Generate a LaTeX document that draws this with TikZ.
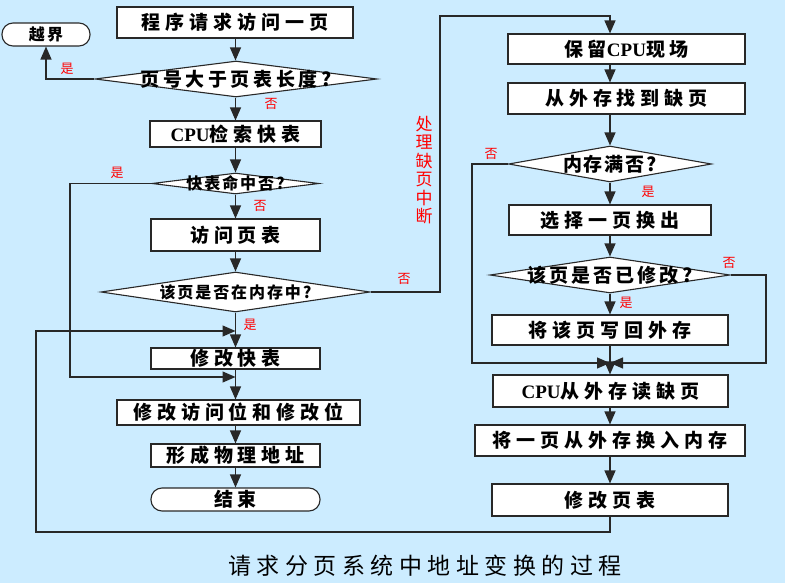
\documentclass[tikz,border=0pt]{standalone}
\usepackage{fontspec}
\setmainfont{Noto Sans CJK SC}
\newfontfamily\cjk{Noto Sans CJK SC}
\newfontfamily\lat{Liberation Serif}
\usetikzlibrary{arrows.meta,shapes.geometric}
\definecolor{bg}{RGB}{204,236,255}
\definecolor{lnc}{RGB}{40,40,40}
\tikzset{
  box/.style={draw=lnc, fill=white, line width=1.1pt, inner sep=0pt, rectangle},
  term/.style={box, rounded corners=11pt},
  dia/.style={draw=lnc, fill=white, line width=1.1pt, inner sep=0pt, diamond},
  arr/.style={draw=lnc, line width=1.2pt, -{Triangle[length=13pt,width=11pt]}},
  yn/.style={text=red, font=\fontsize{13}{13}\selectfont\cjk},
  txt/.style={font=\fontsize{19}{19}\selectfont\cjk\bfseries\addfontfeature{LetterSpace=#1}},
  txt/.default=26,
  txts/.style={font=\fontsize{16}{16}\selectfont\cjk\bfseries\addfontfeature{LetterSpace=#1}},
  txts/.default=12,
}
\begin{document}
\begin{tikzpicture}[x=1pt,y=-1pt]
\fill[bg] (0,0) rectangle (785,583);
\useasboundingbox (0,0) rectangle (785,583);
\coordinate (lx) at (235.5,0);
\coordinate (rx) at (610,0);
% left column
\node[box, minimum width=236pt, minimum height=31pt, txt] (b1) at (235,22.5) {程序请求访问一页};
\node[term, minimum width=88pt, minimum height=23pt, txts=15] (yj) at (46,34.5) {越界};
\node[dia, minimum width=282pt, minimum height=36pt, label={[txt=19]center:页号大于页表长度?}] (d1) at (236,79) {};
\node[box, minimum width=171pt, minimum height=26pt, txt] (b2) at (235.5,134) {{\lat CPU}检索快表};
\node[dia, minimum width=167pt, minimum height=21pt, label={[txts]center:快表命中否?}] (d2) at (235.5,183.5) {};
\node[box, minimum width=169pt, minimum height=32pt, txt] (b3) at (235.5,235) {访问页表};
\node[dia, minimum width=269pt, minimum height=40pt, label={[txts]center:该页是否在内存中?}] (d3) at (235.5,292) {};
\node[box, minimum width=169pt, minimum height=21pt, txt] (b4) at (235.5,358.5) {修改快表};
\node[box, minimum width=243pt, minimum height=25pt, txt] (b5) at (238.5,412.5) {修改访问位和修改位};
\node[box, minimum width=169pt, minimum height=23pt, txt] (b6) at (235.5,455.5) {形成物理地址};
\node[term, minimum width=169pt, minimum height=23pt, txt] (js) at (235.5,499.5) {结束};
% right column
\node[box, minimum width=237pt, minimum height=30pt, txt] (r1) at (626.5,49) {保留{\lat CPU}现场};
\node[box, minimum width=237pt, minimum height=31pt, txt] (r2) at (626.5,98.5) {从外存找到缺页};
\node[dia, minimum width=203pt, minimum height=36pt, label={[txt=10]center:内存满否?}] (rd1) at (610,164) {};
\node[box, minimum width=202pt, minimum height=30pt, txt] (r3) at (610,220) {选择一页换出};
\node[dia, minimum width=240pt, minimum height=36pt, label={[txt=16]center:该页是否已修改?}] (rd2) at (610,275) {};
\node[box, minimum width=236pt, minimum height=30pt, txt] (r4) at (610,330) {将该页写回外存};
\node[box, minimum width=235pt, minimum height=32pt, txt] (r5) at (610.5,391) {{\lat CPU}从外存读缺页};
\node[box, minimum width=270pt, minimum height=31pt, txt] (r6) at (610,440.5) {将一页从外存换入内存};
\node[box, minimum width=236pt, minimum height=32pt, txt] (r7) at (610,500) {修改页表};
% helper coordinates
\coordinate (c2) at (70,377);
\coordinate (j2) at (235.5,377);
\coordinate (c3) at (440,16);
\coordinate (c4) at (36,532);
\coordinate (j1) at (235.5,331);
\coordinate (c5) at (472,363);
\coordinate (c6) at (766,363);
\coordinate (j5) at (610,363);
% left arrows
\draw[arr] (b1.south -| lx) -- (d1.north -| lx);
\draw[arr] (d1.west) -| (yj.south);
\draw[arr] (d1.south -| lx) -- (b2.north -| lx);
\draw[arr] (b2.south -| lx) -- (d2.north -| lx);
\draw[arr] (d2.south -| lx) -- (b3.north -| lx);
\draw[arr] (b3.south -| lx) -- (d3.north -| lx);
\draw[arr] (d3.south -| lx) -- (b4.north -| lx);
\draw[arr] (b4.south -| lx) -- (b5.north -| lx);
\draw[arr] (b5.south -| lx) -- (b6.north -| lx);
\draw[arr] (b6.south -| lx) -- (js.north -| lx);
\draw[arr] (d2.west) -| (c2) -- (j2);
\draw[arr] (d3.east) -| (c3) -| (r1.north -| rx);
% right arrows
\draw[arr] (r1.south -| rx) -- (r2.north -| rx);
\draw[arr] (r2.south -| rx) -- (rd1.north -| rx);
\draw[arr] (rd1.south -| rx) -- (r3.north -| rx);
\draw[arr] (r3.south -| rx) -- (rd2.north -| rx);
\draw[arr] (rd2.south -| rx) -- (r4.north -| rx);
\draw[arr] (r4.south -| rx) -- (r5.north -| rx);
\draw[arr] (r5.south -| rx) -- (r6.north -| rx);
\draw[arr] (r6.south -| rx) -- (r7.north -| rx);
\draw[arr] (rd1.west) -| (c5) -- (j5);
\draw[arr] (rd2.east) -| (c6) -- (j5);
\draw[arr] (r7.south -| rx) |- (c4) |- (j1);
% yes / no labels
\node[yn] (l1) at (67,69) {是};
\node[yn] (l2) at (271,104) {否};
\node[yn] (l3) at (117,173) {是};
\node[yn] (l4) at (260,206) {否};
\node[yn] (l5) at (404,279) {否};
\node[yn] (l6) at (250,325) {是};
\node[yn] (l7) at (491,154) {否};
\node[yn] (l8) at (648,192) {是};
\node[yn] (l9) at (729,263) {否};
\node[yn] (l10) at (626,303) {是};
% vertical text
\node[text=red, align=center, inner sep=0pt, font=\fontsize{17}{18.5}\selectfont\cjk] (vt) at (424,170) {处\\理\\缺\\页\\中\\断};
% caption
\node[font=\fontsize{23}{23}\selectfont\cjk\addfontfeature{LetterSpace=24}] (cap) at (425,566) {请求分页系统中地址变换的过程};
\end{tikzpicture}
\end{document}
